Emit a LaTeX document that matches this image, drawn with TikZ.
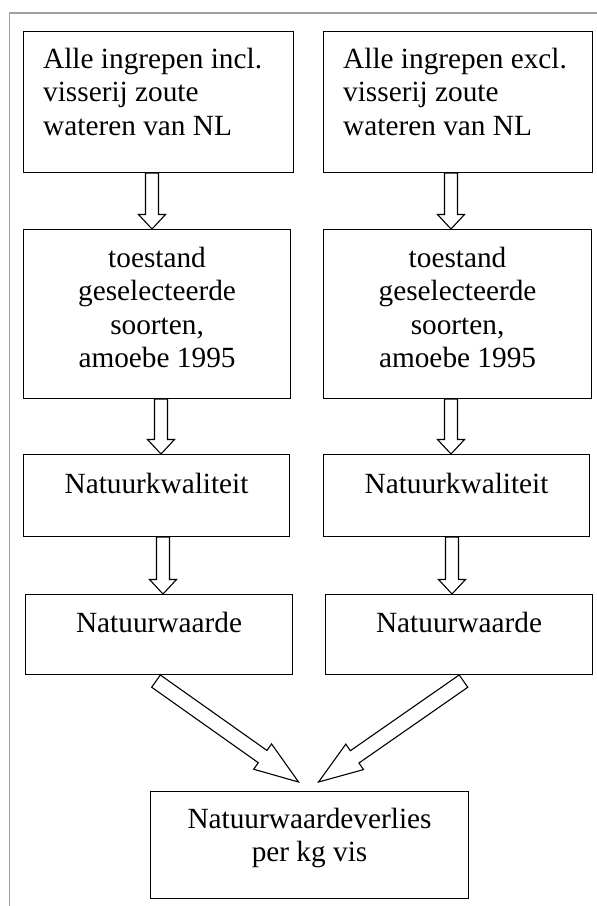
\documentclass[tikz,border=0pt]{standalone}
\usepackage{fontspec}
\setmainfont{Liberation Serif}
\usetikzlibrary{calc}
\definecolor{framegray}{RGB}{160,160,160}
\begin{document}
\begin{tikzpicture}[x=1pt,y=-1pt,
  box/.style={draw, line width=1.1pt, inner sep=0pt, anchor=north west},
  lbl/.style={inner sep=0pt, font=\fontsize{29.3}{33.5}\selectfont},
  % hollow block arrow: #1 shaft half-width, #2 head half-width, #3 head length (pt)
  blockarrow/.style n args={3}{draw, fill=white, line width=1.1pt, line join=miter,
    to path={let \p1=(\tikztostart), \p2=(\tikztotarget),
      \n1={atan2(\y2-\y1,\x2-\x1)}, \n2={veclen(\x2-\x1,\y2-\y1)-#3} in
      ($(\p1)+(\n1+90:#1pt)$) -- ($(\p1)+(\n1:\n2)+(\n1+90:#1pt)$)
      -- ($(\p1)+(\n1:\n2)+(\n1+90:#2pt)$) -- (\p2)
      -- ($(\p1)+(\n1:\n2)+(\n1-90:#2pt)$) -- ($(\p1)+(\n1:\n2)+(\n1-90:#1pt)$)
      -- ($(\p1)+(\n1-90:#1pt)$) -- cycle}},
  down/.style={blockarrow={6.5}{13.5}{14.5}},
  slant/.style={blockarrow={7.5}{15.5}{44}}]
\useasboundingbox (0,0) rectangle (597,906);

% page frame
\draw[framegray, line width=1.2pt] (9.5,906) -- (9.5,13) -- (597,13);

% boxes
\node[box, minimum width=270pt, minimum height=141pt] (b1l) at (23,31) {};
\node[box, minimum width=269pt, minimum height=141pt] (b1r) at (323,31) {};
\node[box, minimum width=267pt, minimum height=169pt] (b2l) at (23,229) {};
\node[box, minimum width=268pt, minimum height=169pt] (b2r) at (323,229) {};
\node[box, minimum width=266pt, minimum height=82pt] (b3l) at (23,454) {};
\node[box, minimum width=266pt, minimum height=82pt] (b3r) at (323,454) {};
\node[box, minimum width=267pt, minimum height=80pt] (b4l) at (25,594) {};
\node[box, minimum width=267pt, minimum height=80pt] (b4r) at (325,594) {};
\node[box, minimum width=318pt, minimum height=107pt] (fin) at (150,791) {};

% texts
\node[lbl, anchor=base west] (t1l) at ($(b1l.north west)+(20,37)$)
  {\begin{tabular}[t]{@{}l@{}}Alle ingrepen incl.\\ visserij zoute\\ wateren van NL\end{tabular}};
\node[lbl, anchor=base west] (t1r) at ($(b1r.north west)+(20,37)$)
  {\begin{tabular}[t]{@{}l@{}}Alle ingrepen excl.\\ visserij zoute\\ wateren van NL\end{tabular}};
\node[lbl, anchor=base] (t2l) at ($(b2l.north)+(0,38)$)
  {\begin{tabular}[t]{@{}c@{}}toestand\\ geselecteerde\\ soorten,\\ amoebe 1995\end{tabular}};
\node[lbl, anchor=base] (t2r) at ($(b2r.north)+(0,38)$)
  {\begin{tabular}[t]{@{}c@{}}toestand\\ geselecteerde\\ soorten,\\ amoebe 1995\end{tabular}};
\node[lbl, anchor=base] (t3l) at ($(b3l.north)+(0,39)$) {Natuurkwaliteit};
\node[lbl, anchor=base] (t3r) at ($(b3r.north)+(0,39)$) {Natuurkwaliteit};
\node[lbl, anchor=base] (t4l) at ($(b4l.north)+(0,38)$) {Natuurwaarde};
\node[lbl, anchor=base] (t4r) at ($(b4r.north)+(0,38)$) {Natuurwaarde};
\node[lbl, anchor=base] (tfin) at ($(fin.north)+(0,37)$)
  {\begin{tabular}[t]{@{}c@{}}Natuurwaardeverlies\\ per kg vis\end{tabular}};

% vertical block arrows
\draw[down] ($(b1l.south west)+(129,0)$) to ($(b2l.north west)+(129,0)$);
\draw[down] ($(b1r.south west)+(128,0)$) to ($(b2r.north west)+(128,0)$);
\draw[down] ($(b2l.south west)+(138,0)$) to ($(b3l.north west)+(138,0)$);
\draw[down] ($(b2r.south west)+(128,0)$) to ($(b3r.north west)+(128,0)$);
\draw[down] ($(b3l.south west)+(140,0)$) to ($(b4l.north west)+(138,0)$);
\draw[down] ($(b3r.south west)+(129,0)$) to ($(b4r.north west)+(127,0)$);

% slanted block arrows into the result box
\draw[slant] ($(b4l.south west)+(131,6)$) to ($(fin.north)+(-11,-9)$);
\draw[slant] ($(b4r.south west)+(138.5,6)$) to ($(fin.north)+(9,-9)$);
\end{tikzpicture}
\end{document}
